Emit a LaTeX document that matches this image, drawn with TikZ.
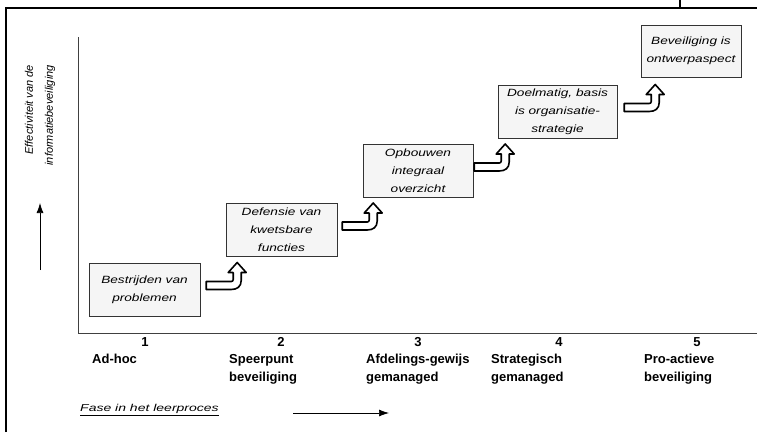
\documentclass[tikz,border=0pt]{standalone}
\usepackage{fontspec}
\setmainfont{Liberation Sans}
\newfontfamily\boxfont[FakeStretch=1.3]{Liberation Sans}
\newfontfamily\fasefont[FakeStretch=1.4]{Liberation Sans}
\usetikzlibrary{positioning, arrows.meta}

\begin{document}
\begin{tikzpicture}[x=1pt, y=-1pt,
    bx/.style={rectangle, draw=gray!40!black, fill=gray!8, inner sep=0pt,
        minimum height=53pt, align=center,
        font=\boxfont\itshape\fontsize{10.5}{18}\selectfont},
    num/.style={font=\bfseries\fontsize{13}{18}\selectfont, inner sep=0pt},
    lb/.style={num, anchor=north west, align=left},
    ax/.style={draw=gray!50!black, line width=0.8pt},
    ar/.style={-{Latex[length=10pt, width=7pt]}, line width=0.7pt},
    fr/.style={line width=1.6pt},
    bentup/.pic={
      \draw[line width=1.6pt, fill=white, line join=round]
        (0,0) -- (25,0) .. controls (31,0) and (35,-3) .. (35,-9) -- (35,-17)
        -- (40,-17) -- (31,-27) -- (22,-17) -- (27,-17) -- (27,-10)
        .. controls (27,-9) and (26.5,-8) .. (25,-8) -- (0,-8) -- cycle;
    }]
\useasboundingbox (0,0) rectangle (757,432);
\draw[fr] (6,432) -- (6,8) -- (757,8);
\draw[line width=1.2pt] (680,0) -- (680,8);

\coordinate (ytop) at (78,37);
\coordinate (O) at (78,333);
\coordinate (xend) at (757,333);
\draw[ax] (ytop) -- (O) -- (xend);

\node[rotate=90, anchor=east, align=right, inner sep=0pt,
    font=\itshape\fontsize{11}{20}\selectfont] (ylab) at (40,65)
    {Effectiviteit van de\\informatiebeveiliging};
\coordinate (yar0) at (40,270);
\coordinate (yar1) at (40,203);
\draw[ar] (yar0) -- (yar1);

\node[bx, minimum width=111pt] (b1) at (144.5,289.5) {Bestrijden van\\problemen};
\node[bx, minimum width=111pt] (b2) at (281.5,230) {Defensie van\\kwetsbare\\functies};
\node[bx, minimum width=110pt] (b3) at (418,171) {Opbouwen\\integraal\\overzicht};
\node[bx, minimum width=119pt] (b4) at (557.5,111.5) {Doelmatig, basis\\is organisatie-\\strategie};
\node[bx, minimum width=100pt, minimum height=52pt] (b5) at (691,51) {Beveiliging is\\ontwerpaspect};

\pic at ([xshift=6pt]b1.east) {bentup};
\pic at ([xshift=5pt]b2.east) {bentup};
\pic at ([xshift=1pt]b3.east) {bentup};
\pic at ([xshift=7pt]b4.east) {bentup};

\node[num] (n1) at (145,342) {1};
\node[num] (n2) at (281,342) {2};
\node[num] (n3) at (418,342) {3};
\node[num] (n4) at (559,342) {4};
\node[num] (n5) at (697,342) {5};
\node[lb] (l1) at (92,354) {Ad-hoc};
\node[lb] (l2) at (229,354) {Speerpunt\\beveiliging};
\node[lb] (l3) at (366,354) {Afdelings-gewijs\\gemanaged};
\node[lb] (l4) at (491,354) {Strategisch\\gemanaged};
\node[lb] (l5) at (644,354) {Pro-actieve\\beveiliging};

\node[anchor=west, inner sep=0pt, font=\fasefont\itshape\fontsize{10}{12}\selectfont]
    (fase) at (80,410) {\underline{Fase in het leerproces}};
\coordinate (xar0) at (293,413);
\coordinate (xar1) at (389,413);
\draw[ar] (xar0) -- (xar1);
\end{tikzpicture}
\end{document}
